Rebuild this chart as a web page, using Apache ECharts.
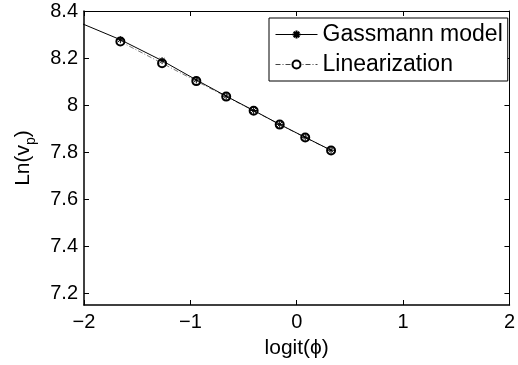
<!DOCTYPE html>
<html>
<head>
<meta charset="utf-8">
<script src="https://cdn.jsdelivr.net/npm/echarts@6/dist/echarts.min.js"></script>
<style>
html,body{margin:0;padding:0;background:#fff;}
#chart{width:518px;height:365px;}
</style>
</head>
<body>
<div id="chart"></div>
<script>
// logit(phi) values of the marked points
var logitPhi = [-1.658, -1.266, -0.944, -0.663, -0.405, -0.160, 0.080, 0.323];
// Gassmann model Ln(vp)
var gassmann = [8.278, 8.189, 8.107, 8.038, 7.977, 7.918, 7.863, 7.808];
// Gassmann curve continues beyond the left edge (unmarked point)
var gassLeadX = [-2.197];
var gassLeadY = [8.380];
// Linearization Ln(vp)
var linearization = [8.270, 8.178, 8.102, 8.036, 7.976, 7.917, 7.862, 7.807];
var xTicks = [-2, -1, 0, 1, 2];
var yTicks = [7.2, 7.4, 7.6, 7.8, 8, 8.2, 8.4];
var seriesNames = ['Gassmann model', 'Linearization'];

var FONT = '"Liberation Sans", Arial, Helvetica, sans-serif';
var star = 'path://M0,5 L10,5 M5,0 L5,10 M1.5,1.5 L8.5,8.5 M1.5,8.5 L8.5,1.5';

var gData = [];
for (var i = 0; i < gassLeadX.length; i++) gData.push({value: [gassLeadX[i], gassLeadY[i]], symbol: 'none'});
for (var i = 0; i < logitPhi.length; i++) gData.push([logitPhi[i], gassmann[i]]);
var lData = logitPhi.map(function (x, i) { return [x, linearization[i]]; });

function fmtX(v) { return v < 0 ? '\u2212' + Math.abs(v) : String(v); }

var chart = echarts.init(document.getElementById('chart'), null, {renderer: 'canvas'});
chart.setOption({
  animation: false,
  backgroundColor: '#ffffff',
  textStyle: {fontFamily: FONT},
  grid: {left: 81, right: 4, top: 11, bottom: 60, containLabel: false},
  legend: {
    orient: 'vertical',
    left: 269, top: 18,
    padding: [4, 5, 4, 6],
    itemWidth: 42, itemHeight: 10, itemGap: 5,
    borderColor: '#000', borderWidth: 1,
    backgroundColor: '#fff',
    data: seriesNames,
    lineStyle: {width: 1},
    textStyle: {fontFamily: FONT, fontSize: 23, color: '#000', lineHeight: 25}
  },
  xAxis: [{
    type: 'value', min: -2, max: 2, interval: 1,
    name: 'logit(\u03d5)', nameLocation: 'middle', nameGap: 33,
    nameTextStyle: {fontFamily: FONT, fontSize: 21, color: '#000'},
    axisLine: {show: true, onZero: false, lineStyle: {color: '#000', width: 1.5}},
    axisTick: {show: true, inside: true, length: 5, lineStyle: {color: '#000'}},
    axisLabel: {fontFamily: FONT, fontSize: 20, color: '#000', margin: 7, formatter: fmtX},
    splitLine: {show: false}
  }, {
    type: 'value', position: 'top', min: -2, max: 2, interval: 1,
    axisLine: {show: true, onZero: false, lineStyle: {color: '#000', width: 1}},
    axisTick: {show: true, inside: true, length: 5, lineStyle: {color: '#000'}},
    axisLabel: {show: false}, splitLine: {show: false}
  }],
  yAxis: [{
    type: 'value', min: 7.15, max: 8.4,
    name: 'Ln(v{s|p})', nameLocation: 'middle', nameGap: 46, nameRotate: 90,
    nameTextStyle: {
      fontFamily: FONT, fontSize: 21, color: '#000',
      rich: {
        s: {fontFamily: FONT, fontSize: 14, color: '#000', lineHeight: 14, verticalAlign: 'bottom'}
      },
      lineHeight: 30
    },
    axisLine: {show: true, onZero: false, lineStyle: {color: '#000', width: 1.5}},
    axisTick: {show: true, inside: true, length: 5, customValues: yTicks, lineStyle: {color: '#000'}},
    axisLabel: {fontFamily: FONT, fontSize: 20, color: '#000', margin: 6, customValues: yTicks,
      formatter: function (v) { return String(+v.toFixed(2)); }},
    splitLine: {show: false}
  }, {
    type: 'value', position: 'right', min: 7.15, max: 8.4,
    axisLine: {show: true, onZero: false, lineStyle: {color: '#000', width: 1}},
    axisTick: {show: true, inside: true, length: 5, customValues: yTicks, lineStyle: {color: '#000'}},
    axisLabel: {show: false, customValues: yTicks}, splitLine: {show: false}
  }],
  series: [{
    name: seriesNames[0], type: 'line', xAxisIndex: 0, yAxisIndex: 0,
    data: gData, clip: true,
    symbol: star, symbolSize: 7,
    itemStyle: {color: '#000', borderColor: '#000', borderWidth: 1},
    lineStyle: {color: '#000', width: 1},
    z: 3
  }, {
    name: seriesNames[1], type: 'line', xAxisIndex: 0, yAxisIndex: 0,
    data: lData, clip: true,
    symbol: 'emptyCircle', symbolSize: 8,
    itemStyle: {color: '#000', borderColor: '#333', borderWidth: 0.7},
    lineStyle: {color: '#444', width: 0.7, type: [5, 2, 1, 2]},
    z: 2
  }]
});
</script>
</body>
</html>
